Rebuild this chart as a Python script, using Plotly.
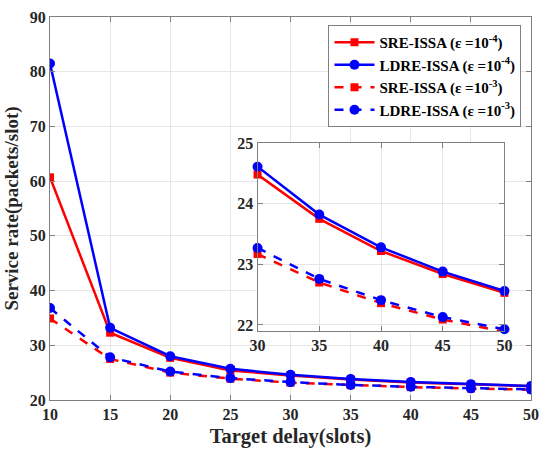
import plotly.graph_objects as go

delay = [10, 15, 20, 25, 30, 35, 40, 45, 50]
sre_4 = [60.7, 32.3, 27.7, 25.4, 24.48, 23.75, 23.22, 22.84, 22.53]
ldre_4 = [81.5, 33.2, 28.0, 25.7, 24.61, 23.82, 23.28, 22.88, 22.56]
sre_3 = [34.9, 27.5, 25.0, 23.9, 23.17, 22.70, 22.36, 22.09, 21.89]
ldre_3 = [36.8, 27.8, 25.2, 24.0, 23.27, 22.76, 22.41, 22.13, 21.93]

inset_delay = [30, 35, 40, 45, 50]
n0 = delay.index(30)

names = ["SRE-ISSA (ε =10<sup>-4</sup>)", "LDRE-ISSA (ε =10<sup>-4</sup>)",
         "SRE-ISSA (ε =10<sup>-3</sup>)", "LDRE-ISSA (ε =10<sup>-3</sup>)"]
series = [sre_4, ldre_4, sre_3, ldre_3]
colors = ["#ff0000", "#0000ff", "#ff0000", "#0000ff"]
dashes = ["solid", "solid", "dash", "dash"]
symbols = ["square", "circle", "square", "circle"]
msizes = [8, 10, 8, 10]

font = "Liberation Serif"
fig = go.Figure()
for nm, ys, c, d, s, ms in zip(names, series, colors, dashes, symbols, msizes):
    fig.add_trace(go.Scatter(x=delay, y=ys, mode="lines+markers", name="<b>" + nm + "</b>",
                             line=dict(color=c, width=2.5, dash=d),
                             marker=dict(symbol=s, size=ms, color=c),
                             xaxis="x", yaxis="y"))
for nm, ys, c, d, s, ms in zip(names, series, colors, dashes, symbols, msizes):
    fig.add_trace(go.Scatter(x=inset_delay, y=ys[n0:], mode="lines+markers", name=nm,
                             showlegend=False, cliponaxis=False,
                             line=dict(color=c, width=2.5, dash=d),
                             marker=dict(symbol=s, size=ms, color=c),
                             xaxis="x2", yaxis="y2"))

axcommon = dict(showline=True, linecolor="#808080", linewidth=1, mirror="allticks",
                ticks="inside", ticklen=5, tickcolor="#808080",
                showgrid=True, gridcolor="#e6e6e6", gridwidth=1, zeroline=False,
                tickprefix="<b>", ticksuffix="</b>",
                tickfont=dict(family=font, size=16, color="#262626"))

fig.update_layout(
    width=548, height=453,
    margin=dict(l=50, r=9, t=14, b=50),
    paper_bgcolor="white", plot_bgcolor="white",
    font=dict(family=font, color="#262626"),
    xaxis=dict(range=[10, 50], dtick=5, tick0=10, domain=[0, 1],
               title=dict(text="<b>Target delay(slots)</b>", font=dict(family=font, size=20.5), standoff=6),
               **axcommon),
    yaxis=dict(range=[20, 90], dtick=10, domain=[0, 1],
               title=dict(text="<b>Service rate(packets/slot)</b>", font=dict(family=font, size=19), standoff=6),
               **axcommon),
    xaxis2=dict(range=[30, 50], dtick=5, tick0=30, domain=[0.4315, 0.9448], anchor="y2", **axcommon),
    yaxis2=dict(range=[21.9, 25], dtick=1, tick0=22, domain=[0.18, 0.671], anchor="x2", **axcommon),
    legend=dict(x=0.579, y=0.979, xanchor="left", yanchor="top",
                bgcolor="white", bordercolor="#808080", borderwidth=1,
                font=dict(family=font, size=15, color="#000000"),
                tracegroupgap=0, itemwidth=40),
    showlegend=True,
)

fig.write_html("out.html")
